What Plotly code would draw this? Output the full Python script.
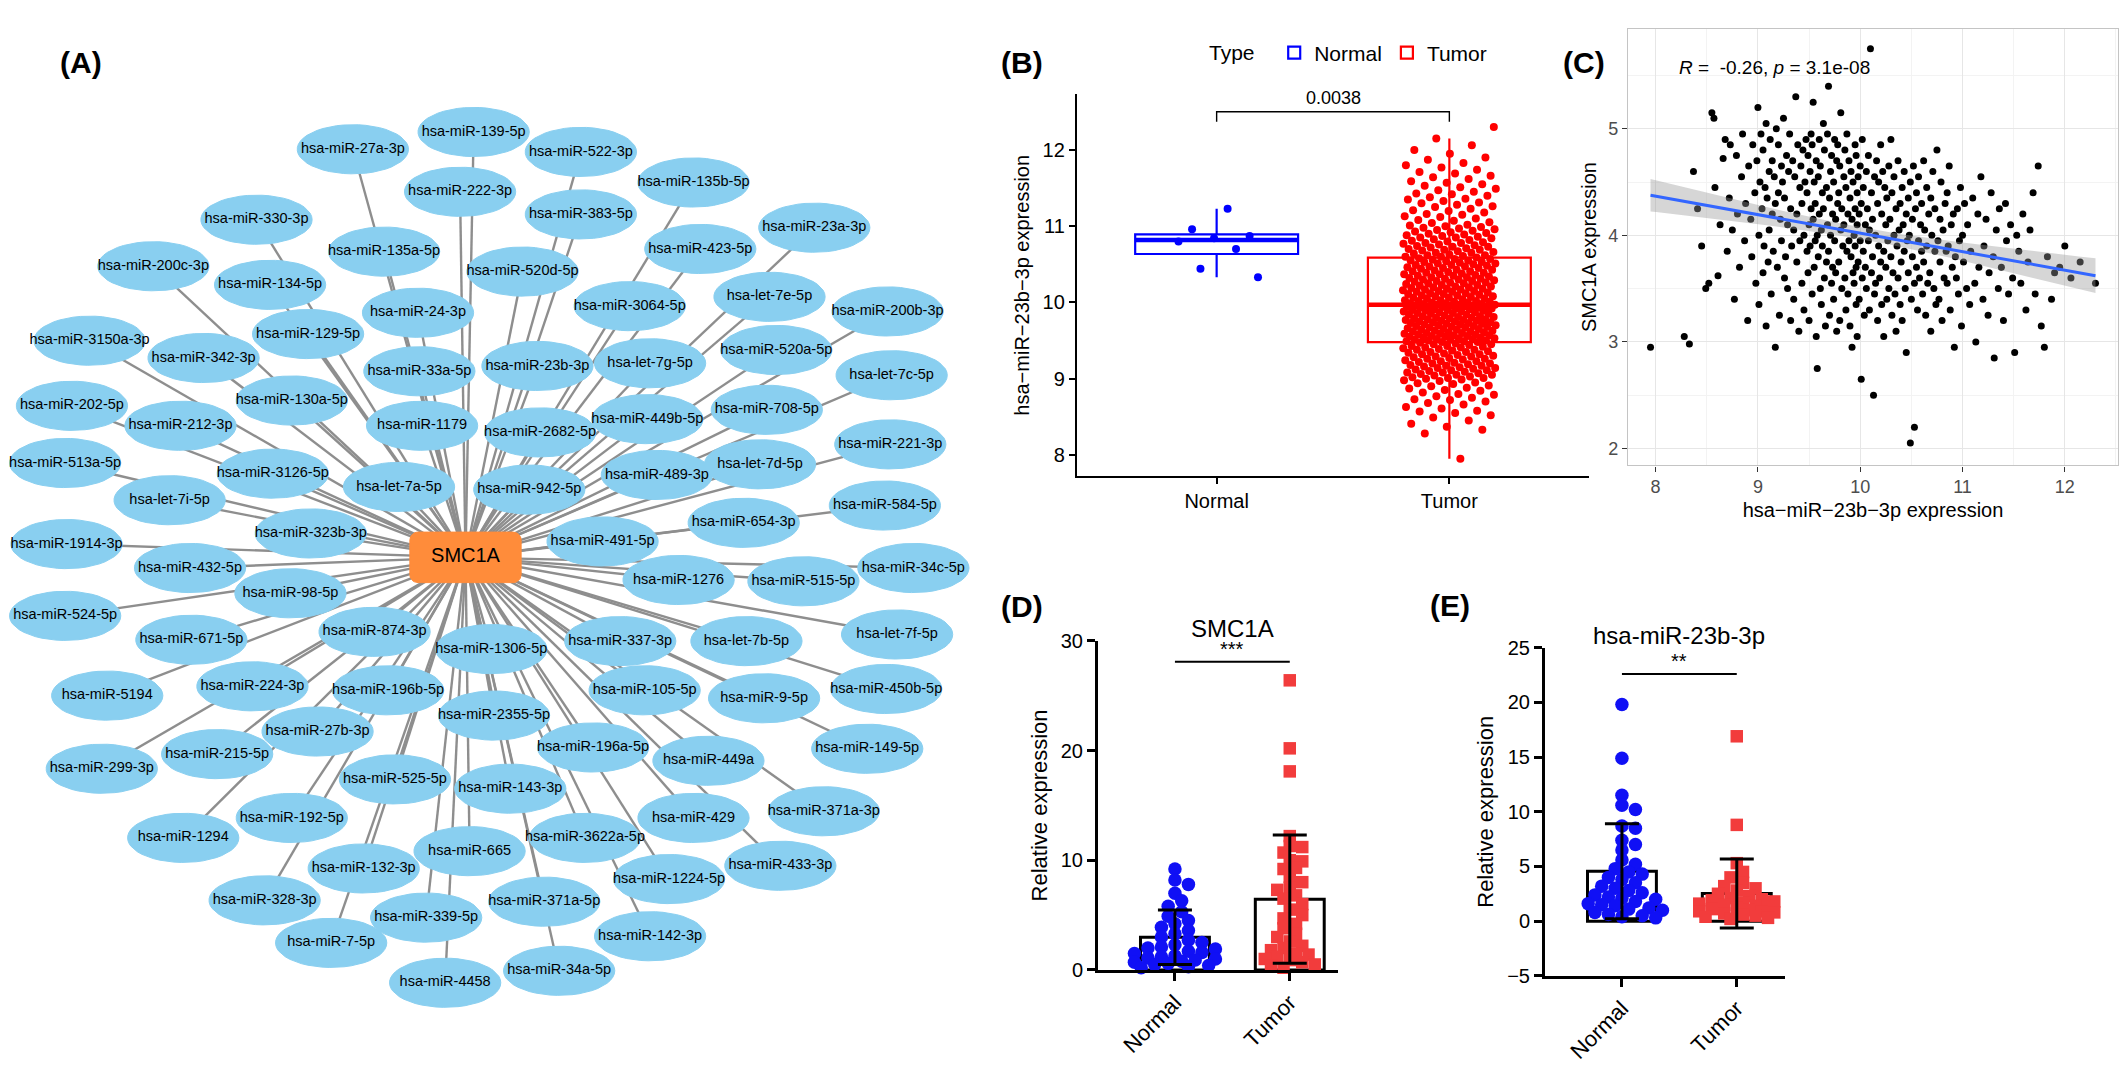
import numpy as np
import plotly.graph_objects as go

W, H = 2128, 1074
S = W / 1568.0  # network layout unit -> pixels
FONT = "Arial, 'Liberation Sans', Helvetica, sans-serif"

groups = ["Normal", "Tumor"]

# ---------------- Panel A : SMC1A - miRNA network (layout) ----------
hub_name = "SMC1A"
hub_x, hub_y = 343, 411
mirna_names = [
    "hsa-miR-139-5p", "hsa-miR-27a-3p", "hsa-miR-522-3p", "hsa-miR-222-3p", "hsa-miR-135b-5p",
    "hsa-miR-330-3p", "hsa-miR-383-5p", "hsa-miR-23a-3p", "hsa-miR-200c-3p", "hsa-miR-135a-5p",
    "hsa-miR-423-5p", "hsa-miR-134-5p", "hsa-miR-520d-5p", "hsa-let-7e-5p", "hsa-miR-200b-3p",
    "hsa-miR-3064-5p", "hsa-miR-24-3p", "hsa-miR-129-5p", "hsa-miR-3150a-3p", "hsa-miR-342-3p",
    "hsa-let-7g-5p", "hsa-miR-520a-5p", "hsa-let-7c-5p", "hsa-miR-33a-5p", "hsa-miR-23b-3p",
    "hsa-miR-130a-5p", "hsa-miR-202-5p", "hsa-miR-212-3p", "hsa-miR-1179", "hsa-miR-2682-5p",
    "hsa-miR-449b-5p", "hsa-miR-708-5p", "hsa-miR-221-3p", "hsa-miR-513a-5p", "hsa-miR-3126-5p",
    "hsa-let-7a-5p", "hsa-miR-942-5p", "hsa-miR-489-3p", "hsa-let-7d-5p", "hsa-let-7i-5p",
    "hsa-miR-323b-3p", "hsa-miR-584-5p", "hsa-miR-654-3p", "hsa-miR-1914-3p", "hsa-miR-491-5p",
    "hsa-miR-432-5p", "hsa-miR-34c-5p", "hsa-miR-1276", "hsa-miR-515-5p", "hsa-miR-98-5p",
    "hsa-miR-524-5p", "hsa-let-7f-5p", "hsa-miR-874-3p", "hsa-miR-671-5p", "hsa-let-7b-5p",
    "hsa-miR-1306-5p", "hsa-miR-337-3p", "hsa-miR-450b-5p", "hsa-miR-224-3p", "hsa-miR-196b-5p",
    "hsa-miR-5194", "hsa-miR-105-5p", "hsa-miR-9-5p", "hsa-miR-2355-5p", "hsa-miR-27b-3p",
    "hsa-miR-196a-5p", "hsa-miR-149-5p", "hsa-miR-215-5p", "hsa-miR-299-3p", "hsa-miR-449a",
    "hsa-miR-525-5p", "hsa-miR-143-3p", "hsa-miR-371a-3p", "hsa-miR-192-5p", "hsa-miR-429",
    "hsa-miR-1294", "hsa-miR-3622a-5p", "hsa-miR-665", "hsa-miR-132-3p", "hsa-miR-433-3p",
    "hsa-miR-1224-5p", "hsa-miR-328-3p", "hsa-miR-339-5p", "hsa-miR-371a-5p", "hsa-miR-142-3p",
    "hsa-miR-7-5p", "hsa-miR-4458", "hsa-miR-34a-5p",
]
mirna_x = [
    349, 260, 428, 339, 511, 189, 428, 600, 113, 283,
    516, 199, 385, 567, 654, 464, 308, 227, 66, 150,
    479, 572, 657, 309, 396, 215, 53, 133, 311, 398,
    477, 565, 656, 48, 201, 294, 390, 484, 560, 125,
    229, 652, 548, 49, 444, 140, 673, 500, 592, 214,
    48, 661, 276, 141, 550, 362, 457, 653, 186, 286,
    79, 475, 563, 364, 234, 437, 639, 160, 75, 522,
    291, 376, 607, 215, 511, 135, 431, 346, 268, 575,
    493, 195, 314, 401, 479, 244, 328, 412,
]
mirna_y = [
    91, 104, 106, 136, 129, 157, 153, 163, 192, 181,
    179, 206, 196, 215, 226, 222, 227, 243, 248, 261,
    265, 255, 274, 271, 267, 293, 297, 312, 312, 317,
    307, 300, 326, 340, 348, 358, 360, 349, 341, 368,
    393, 372, 385, 401, 399, 419, 419, 428, 429, 438,
    455, 469, 467, 473, 474, 480, 474, 510, 508, 511,
    515, 511, 517, 530, 542, 554, 555, 559, 570, 564,
    578, 585, 602, 607, 607, 622, 622, 632, 645, 643,
    653, 669, 682, 670, 696, 701, 731, 722,
]

# ---------------- Panel B / C : TCGA expression ----------------
normal_mir = [11.23, 10.96, 10.87, 10.84, 10.80, 10.70, 10.44, 10.33]
tumor_mir = [
    7.95, 8.28, 8.33, 8.37, 8.41, 8.45, 8.49, 8.52, 8.55, 8.57,
    8.58, 8.61, 8.63, 8.66, 8.68, 8.70, 8.72, 8.73, 8.75, 8.77,
    8.79, 8.80, 8.82, 8.84, 8.85, 8.87, 8.88, 8.90, 8.91, 8.93,
    8.94, 8.95, 8.97, 8.98, 8.99, 9.00, 9.01, 9.01, 9.02, 9.03,
    9.04, 9.05, 9.05, 9.06, 9.07, 9.08, 9.08, 9.09, 9.10, 9.11,
    9.11, 9.12, 9.13, 9.14, 9.14, 9.15, 9.16, 9.17, 9.17, 9.18,
    9.19, 9.20, 9.20, 9.21, 9.22, 9.23, 9.23, 9.24, 9.25, 9.26,
    9.26, 9.27, 9.28, 9.29, 9.29, 9.30, 9.31, 9.32, 9.32, 9.33,
    9.34, 9.35, 9.35, 9.36, 9.37, 9.38, 9.38, 9.39, 9.40, 9.41,
    9.41, 9.42, 9.43, 9.43, 9.44, 9.45, 9.45, 9.46, 9.47, 9.48,
    9.48, 9.49, 9.49, 9.50, 9.50, 9.51, 9.51, 9.52, 9.52, 9.53,
    9.53, 9.54, 9.54, 9.55, 9.55, 9.56, 9.56, 9.57, 9.57, 9.58,
    9.58, 9.59, 9.59, 9.60, 9.60, 9.61, 9.61, 9.62, 9.62, 9.63,
    9.63, 9.64, 9.64, 9.65, 9.65, 9.66, 9.67, 9.67, 9.68, 9.68,
    9.69, 9.69, 9.70, 9.70, 9.71, 9.71, 9.72, 9.72, 9.73, 9.73,
    9.74, 9.74, 9.75, 9.75, 9.76, 9.76, 9.77, 9.77, 9.78, 9.78,
    9.79, 9.79, 9.80, 9.80, 9.81, 9.81, 9.82, 9.82, 9.83, 9.84,
    9.84, 9.85, 9.85, 9.86, 9.86, 9.87, 9.87, 9.88, 9.88, 9.89,
    9.89, 9.90, 9.90, 9.91, 9.91, 9.92, 9.92, 9.93, 9.93, 9.94,
    9.94, 9.95, 9.95, 9.95, 9.96, 9.96, 9.96, 9.97, 9.97, 9.97,
    9.98, 9.98, 9.99, 9.99, 10.00, 10.00, 10.01, 10.01, 10.02, 10.02,
    10.03, 10.03, 10.04, 10.05, 10.05, 10.06, 10.06, 10.07, 10.08, 10.08,
    10.09, 10.09, 10.10, 10.11, 10.11, 10.12, 10.12, 10.13, 10.14, 10.14,
    10.15, 10.15, 10.16, 10.17, 10.17, 10.18, 10.18, 10.19, 10.20, 10.20,
    10.21, 10.21, 10.22, 10.23, 10.23, 10.24, 10.25, 10.25, 10.26, 10.26,
    10.27, 10.28, 10.28, 10.29, 10.30, 10.30, 10.31, 10.31, 10.32, 10.33,
    10.33, 10.34, 10.35, 10.35, 10.36, 10.37, 10.37, 10.38, 10.39, 10.39,
    10.40, 10.41, 10.41, 10.42, 10.43, 10.43, 10.44, 10.45, 10.45, 10.46,
    10.47, 10.47, 10.48, 10.49, 10.49, 10.50, 10.51, 10.51, 10.52, 10.53,
    10.53, 10.54, 10.55, 10.55, 10.56, 10.57, 10.57, 10.58, 10.59, 10.60,
    10.60, 10.61, 10.62, 10.62, 10.63, 10.64, 10.65, 10.65, 10.66, 10.67,
    10.68, 10.69, 10.69, 10.70, 10.71, 10.72, 10.73, 10.73, 10.74, 10.75,
    10.76, 10.77, 10.78, 10.78, 10.79, 10.80, 10.81, 10.82, 10.83, 10.84,
    10.85, 10.85, 10.86, 10.87, 10.88, 10.89, 10.90, 10.91, 10.92, 10.93,
    10.94, 10.95, 10.96, 10.97, 10.98, 10.99, 11.00, 11.01, 11.02, 11.04,
    11.05, 11.07, 11.08, 11.10, 11.12, 11.13, 11.15, 11.16, 11.18, 11.20,
    11.21, 11.23, 11.25, 11.26, 11.28, 11.30, 11.31, 11.33, 11.35, 11.36,
    11.38, 11.40, 11.42, 11.43, 11.45, 11.47, 11.49, 11.51, 11.53, 11.55,
    11.57, 11.59, 11.62, 11.64, 11.66, 11.69, 11.71, 11.74, 11.77, 11.80,
    11.83, 11.87, 11.90, 11.95, 12.00, 12.06, 12.15, 12.30,
]
tumor_smc1a = [
    2.95, 3.05, 2.98, 4.60, 4.25, 3.90, 3.50, 3.55, 5.15, 5.10,
    4.45, 3.62, 4.10, 4.72, 4.90, 3.85, 4.35, 4.85, 4.05, 3.40,
    4.75, 4.20, 3.70, 4.55, 4.95, 3.95, 4.30, 3.20, 4.65, 4.15,
    3.80, 4.85, 4.40, 3.55, 4.70, 5.20, 4.00, 3.35, 4.50, 4.95,
    4.25, 3.65, 4.80, 3.90, 4.45, 3.15, 5.05, 4.35, 3.75, 4.60,
    4.05, 4.90, 3.45, 4.20, 4.70, 3.85, 4.55, 2.95, 4.30, 5.00,
    3.70, 4.40, 4.85, 3.25, 4.15, 4.65, 3.95, 4.50, 5.10, 3.60,
    4.35, 3.80, 4.75, 4.10, 3.50, 4.60, 4.95, 3.20, 4.25, 3.90,
    4.70, 4.05, 3.40, 4.55, 5.30, 3.75, 4.20, 4.85, 3.10, 4.45,
    3.95, 4.65, 4.30, 3.55, 4.80, 4.00, 3.30, 4.50, 4.90, 3.85,
    4.40, 3.65, 4.75, 4.10, 3.20, 4.60, 3.90, 4.95, 4.25, 3.45,
    4.85, 4.15, 5.25, 3.70, 4.50, 3.95, 4.30, 3.05, 4.70, 4.00,
    2.75, 4.55, 3.80, 4.90, 4.20, 3.50, 4.65, 4.05, 3.35, 4.40,
    3.90, 5.05, 4.25, 3.60, 4.80, 3.15, 4.45, 3.75, 4.95, 4.10,
    5.40, 3.85, 4.35, 3.25, 4.60, 4.00, 3.55, 4.75, 3.70, 4.20,
    4.50, 3.40, 4.90, 3.95, 4.15, 3.65, 4.70, 3.10, 4.30, 4.85,
    3.75, 4.40, 3.20, 4.65, 4.05, 5.15, 3.50, 4.25, 3.90, 4.55,
    4.10, 3.60, 4.80, 3.30, 4.45, 3.85, 4.95, 3.45, 4.20, 3.95,
    4.70, 3.15, 4.35, 3.80, 4.60, 2.95, 4.15, 3.65, 4.50, 4.00,
    3.55, 4.85, 3.90, 4.25, 3.35, 4.75, 3.70, 4.40, 3.05, 4.10,
    4.55, 3.75, 4.20, 3.40, 4.65, 3.95, 2.65, 4.30, 3.60, 4.90,
    3.85, 4.45, 3.25, 4.10, 3.70, 4.60, 3.50, 4.25, 3.95, 4.75,
    3.30, 4.05, 5.75, 3.65, 4.40, 3.80, 4.15, 2.50, 4.55, 3.45,
    4.00, 3.55, 4.70, 3.20, 4.30, 3.90, 4.50, 3.60, 4.85, 3.75,
    4.20, 3.35, 4.60, 3.85, 3.05, 4.45, 3.70, 4.10, 3.40, 4.35,
    3.95, 4.65, 3.50, 4.15, 3.80, 4.90, 3.25, 4.40, 3.65, 4.00,
    4.55, 3.45, 4.25, 3.10, 3.90, 4.70, 3.60, 4.05, 3.35, 4.30,
    3.75, 4.45, 3.20, 4.10, 3.85, 4.60, 3.50, 4.20, 2.90, 3.95,
    4.35, 3.65, 4.00, 2.05, 4.50, 3.40, 4.15, 3.80, 4.65, 3.55,
    2.20, 4.25, 3.70, 4.40, 3.30, 3.95, 4.55, 3.60, 4.10, 3.85,
    4.30, 3.45, 4.70, 3.75, 4.05, 3.25, 4.45, 3.90, 3.55, 4.20,
    3.65, 4.35, 3.10, 4.00, 4.60, 3.50, 3.85, 4.25, 3.35, 4.80,
    3.95, 3.40, 4.15, 3.75, 4.50, 3.20, 4.05, 3.60, 4.30, 3.85,
    4.40, 3.55, 3.90, 4.65, 3.30, 4.10, 3.70, 4.20, 2.95, 3.80,
    3.60, 4.25, 3.45, 3.95, 4.45, 3.15, 4.00, 3.75, 4.30, 3.50,
    4.10, 3.35, 3.85, 4.35, 3.55, 3.00, 4.20, 3.70, 4.55, 3.40,
    3.90, 4.15, 3.25, 3.65, 4.40, 3.80, 2.85, 4.05, 3.50, 4.25,
    3.70, 3.20, 4.30, 3.95, 3.45, 4.10, 3.60, 2.90, 4.00, 3.85,
    3.55, 4.20, 3.30, 3.75, 4.05, 4.40, 3.45, 4.65, 3.15, 2.95,
    3.80, 3.40, 3.65, 3.70, 3.90, 3.60, 3.75, 3.55,
]
p_label_b = "0.0038"
cor_label_c = "<i>R</i> =  -0.26, <i>p</i> = 3.1e-08"

# ---------------- Panel D / E : qPCR relative expression ----------------
d_normal = [9.2, 8.2, 7.8, 7.0, 6.3, 5.8, 5.3, 4.9, 4.5, 4.2, 3.9, 3.6, 3.3, 3.0, 2.7, 2.5, 2.3,
            2.1, 2.0, 1.9, 1.7, 1.6, 1.5, 1.3, 1.2, 1.1, 1.0, 0.9, 0.8, 0.7, 0.6, 0.5, 0.4, 0.3, 0.2]
d_tumor = [26.4, 20.2, 18.1, 12.2, 11.3, 11.2, 10.7, 10.0, 9.9, 9.3, 9.2, 8.5, 8.0, 7.5, 7.3, 6.8,
           6.5, 6.0, 5.5, 5.0, 4.7, 4.2, 3.8, 3.3, 3.0, 2.6, 2.2, 2.0, 1.8, 1.5, 1.4, 1.2, 1.0,
           0.9, 0.7, 0.5, 0.4, 0.2]
e_normal = [19.8, 14.9, 11.5, 10.6, 10.2, 8.7, 8.5, 7.4, 7.0, 6.5, 5.6, 5.2, 4.8, 4.5, 4.3, 4.0,
            3.8, 3.5, 3.2, 3.0, 2.8, 2.6, 2.4, 2.2, 2.1, 2.0, 1.8, 1.6, 1.5, 1.4, 1.2, 1.1, 1.0,
            0.8, 0.6, 0.5, 0.4, 0.3]
e_tumor = [16.9, 8.8, 5.3, 4.5, 4.0, 3.5, 3.2, 3.0, 2.8, 2.5, 2.3, 2.1, 2.0, 1.9, 1.8, 1.7, 1.6,
           1.5, 1.4, 1.3, 1.2, 1.1, 1.0, 0.9, 0.9, 0.8, 0.7, 0.6, 0.5, 0.4, 0.3, 0.2]
d_title, e_title = "SMC1A", "hsa-miR-23b-3p"
d_sig, e_sig = "***", "**"

# ======================================================================
fig = go.Figure()
BLUE, RED = "#0000FF", "#FF0000"
SKY, ORANGE = "#89CFF0", "#FF8C3A"


def fx(p):
    return p / W


def fy(p):
    return 1 - p / H


# ---- network edges
ex, ey = [], []
for x, y in zip(mirna_x, mirna_y):
    ex += [hub_x, x, None]
    ey += [hub_y, y, None]
fig.add_trace(go.Scatter(x=ex, y=ey, mode="lines", line=dict(color="#8E8E8E", width=2.4),
                         hoverinfo="skip", showlegend=False, xaxis="x", yaxis="y"))
# ---- node ellipses
NA, NB = 41.0, 18.5
tt = np.linspace(0, 2 * np.pi, 48)
elx, ely = [], []
for x, y in zip(mirna_x, mirna_y):
    elx += list(x + NA * np.cos(tt)) + [None]
    ely += list(y + NB * np.sin(tt)) + [None]
fig.add_trace(go.Scatter(x=elx, y=ely, mode="lines", fill="toself", fillcolor=SKY,
                         line=dict(color=SKY, width=1), hoverinfo="skip", showlegend=False,
                         xaxis="x", yaxis="y"))
# ---- hub rounded rectangle
hw, hh, rr = 41.0, 19.0, 6.0
rx, ry = [], []
for ox, oy, a0, a1 in [(hub_x + hw - rr, hub_y - hh + rr, -90, 0), (hub_x + hw - rr, hub_y + hh - rr, 0, 90),
                       (hub_x - hw + rr, hub_y + hh - rr, 90, 180), (hub_x - hw + rr, hub_y - hh + rr, 180, 270)]:
    ang = np.radians(np.linspace(a0, a1, 8))
    rx += list(ox + rr * np.cos(ang))
    ry += list(oy + rr * np.sin(ang))
rx.append(rx[0]); ry.append(ry[0])
fig.add_trace(go.Scatter(x=rx, y=ry, mode="lines", fill="toself", fillcolor=ORANGE,
                         line=dict(color=ORANGE, width=1), hoverinfo="skip", showlegend=False,
                         xaxis="x", yaxis="y"))
fig.add_trace(go.Scatter(x=mirna_x, y=mirna_y, mode="text", text=mirna_names,
                         textfont=dict(size=14.5, color="black", family=FONT),
                         hoverinfo="skip", showlegend=False, xaxis="x", yaxis="y"))
fig.add_trace(go.Scatter(x=[hub_x], y=[hub_y], mode="text", text=[hub_name],
                         textfont=dict(size=20, color="black", family=FONT),
                         hoverinfo="skip", showlegend=False, xaxis="x", yaxis="y"))

# ---- Panel B boxplots


def box_stats(v):
    v = np.asarray(v, float)
    q1, med, q3 = np.percentile(v, [25, 50, 75])
    iqr = q3 - q1
    lo = v[v >= q1 - 1.5 * iqr].min()
    hi = v[v <= q3 + 1.5 * iqr].max()
    return q1, med, q3, lo, hi


GOLD = 0.6180339887
for gi, (g, vals, col) in enumerate(zip(groups, [normal_mir, tumor_mir], [BLUE, RED])):
    q1, med, q3, lo, hi = box_stats(vals)
    fig.add_trace(go.Box(x=[gi], q1=[q1], median=[med], q3=[q3], lowerfence=[lo], upperfence=[hi],
                         name=g, width=0.7, orientation="v", line=dict(color=col, width=2.2),
                         fillcolor="rgba(255,255,255,0)", whiskerwidth=0, boxpoints=False,
                         xaxis="x2", yaxis="y2", showlegend=True, hoverinfo="skip"))
    fig.add_trace(go.Scatter(x=[gi - 0.35, gi + 0.35], y=[med, med], mode="lines",
                             line=dict(color=col, width=4.5), showlegend=False, hoverinfo="skip",
                             xaxis="x2", yaxis="y2"))
    idx = np.arange(len(vals))
    jit = 0.4 * (((idx + 1) * GOLD) % 1.0 - 0.5)
    fig.add_trace(go.Scatter(x=gi + jit, y=vals, mode="markers",
                             marker=dict(color=col, size=8, line=dict(width=0)),
                             showlegend=False, hoverinfo="skip", xaxis="x2", yaxis="y2"))

top_b = max(max(tumor_mir), max(normal_mir)) + 0.2
fig.add_trace(go.Scatter(x=[0, 0, 1, 1], y=[top_b - 0.13, top_b, top_b, top_b - 0.13], mode="lines",
                         line=dict(color="black", width=1.4), showlegend=False, hoverinfo="skip",
                         xaxis="x2", yaxis="y2"))

# ---- Panel C scatter + lm
cx = np.asarray(tumor_mir[:len(tumor_smc1a)], float)
cy = np.asarray(tumor_smc1a[:len(cx)], float)
b1, b0 = np.polyfit(cx, cy, 1)
xs = np.linspace(cx.min(), cx.max(), 80)
yh = b0 + b1 * xs
n = len(cx)
s = np.sqrt(np.sum((cy - (b0 + b1 * cx)) ** 2) / (n - 2))
se = s * np.sqrt(1.0 / n + (xs - cx.mean()) ** 2 / np.sum((cx - cx.mean()) ** 2))
tq = 1.966
fig.add_trace(go.Scatter(x=cx, y=cy, mode="markers", marker=dict(color="black", size=7),
                         showlegend=False, hoverinfo="skip", xaxis="x3", yaxis="y3"))
fig.add_trace(go.Scatter(x=np.concatenate([xs, xs[::-1]]),
                         y=np.concatenate([yh + tq * se, (yh - tq * se)[::-1]]),
                         mode="lines", fill="toself", fillcolor="rgba(153,153,153,0.4)",
                         line=dict(width=0), showlegend=False, hoverinfo="skip",
                         xaxis="x3", yaxis="y3"))
fig.add_trace(go.Scatter(x=xs, y=yh, mode="lines", line=dict(color="#3366FF", width=3),
                         showlegend=False, hoverinfo="skip", xaxis="x3", yaxis="y3"))

# ---- Panels D / E bar + scatter


def swarm(vals, xppu, yppu, diam, max_units=0.36):
    v = np.asarray(vals, float)
    order = np.argsort(-v)
    px_l, py_l = [], []
    off = np.zeros(len(v))
    step = diam * 0.5
    lim = max_units * xppu
    for i in order:
        yp = v[i] * yppu
        best, best_d = 0.0, -1.0
        k = 0
        while True:
            m = (k + 1) // 2
            cand = 0.0 if k == 0 else (m * step if k % 2 else -m * step)
            if abs(cand) > lim:
                cand = best
                break
            dmin = min([np.hypot(cand - a, yp - b) for a, b in zip(px_l, py_l)] or [1e9])
            if dmin > best_d:
                best, best_d = cand, dmin
            if dmin >= diam * 0.72:
                break
            k += 1
        px_l.append(cand); py_l.append(yp)
        off[i] = cand / xppu
    return off


XR = [-0.67, 1.42]
panels = [
    ("x4", "y4", d_normal, d_tumor, (1098, 1338), (643, 979), (0, 30), d_sig, 1.7),
    ("x5", "y5", e_normal, e_tumor, (1545, 1785), (650, 985), (-5, 25), e_sig, 2.8),
]
annotations = []
for xa, ya, nv, tv, (xl, xr), (yt, yb), yr, sig, gap in panels:
    xppu = (xr - xl) / (XR[1] - XR[0])
    yppu = (yb - yt) / (yr[1] - yr[0])
    means = [float(np.mean(nv)), float(np.mean(tv))]
    sds = [float(np.std(nv, ddof=1)), float(np.std(tv, ddof=1))]
    fig.add_trace(go.Bar(x=[0, 1], y=means, width=0.6,
                         marker=dict(color="white", line=dict(color="black", width=3)),
                         showlegend=False, hoverinfo="skip", xaxis=xa, yaxis=ya))
    for gi, vals, col, sym, sz in [(0, nv, "#1010F5", "circle", 13.5), (1, tv, "#F23C3C", "square", 12.5)]:
        off = swarm(vals, xppu, yppu, sz)
        fig.add_trace(go.Scatter(x=gi + off, y=vals, mode="markers", cliponaxis=False,
                                 marker=dict(color=col, symbol=sym, size=sz, line=dict(width=0)),
                                 showlegend=False, hoverinfo="skip", xaxis=xa, yaxis=ya))
    fig.add_trace(go.Scatter(x=[0, 1], y=means, mode="markers", marker=dict(size=1, color="rgba(0,0,0,0)"),
                             error_y=dict(type="data", array=sds, visible=True, color="black",
                                          thickness=3, width=17),
                             showlegend=False, hoverinfo="skip", xaxis=xa, yaxis=ya))
    ys = max(max(nv), max(tv)) + gap
    fig.add_trace(go.Scatter(x=[0, 1], y=[ys, ys], mode="lines", line=dict(color="black", width=2),
                             showlegend=False, hoverinfo="skip", xaxis=xa, yaxis=ya))
    annotations.append(dict(x=0.5, y=ys, xref=xa, yref=ya, text=sig, showarrow=False,
                            yanchor="bottom", font=dict(size=20, color="black")))

# ---- annotations
panel_labels = [("(A)", 58, 34), ("(B)", 1022, 34), ("(C)", 1607, 34), ("(D)", 1022, 608), ("(E)", 1472, 607)]
for txt, x, y in panel_labels:
    annotations.append(dict(x=fx(x), y=fy(y), xref="paper", yref="paper", text="<b>%s</b>" % txt,
                            showarrow=False, font=dict(size=30, color="black")))
annotations.append(dict(x=0.5, y=top_b + 0.03, xref="x2", yref="y2", text=p_label_b, showarrow=False,
                        yanchor="bottom", font=dict(size=18, color="black")))
annotations.append(dict(x=0.5, y=1 + (643 - 615) / 336.0, xref="x4", yref="y4 domain", text=d_title,
                        showarrow=False, font=dict(size=24, color="black")))
annotations.append(dict(x=0.5, y=1 + (650 - 622) / 335.0, xref="x5", yref="y5 domain", text=e_title,
                        showarrow=False, font=dict(size=24, color="black")))
annotations.append(dict(x=0.10, y=0.94, xref="x3 domain", yref="y3 domain", text=cor_label_c,
                        showarrow=False, xanchor="left", font=dict(size=19, color="black")))

axis_b = dict(showline=True, linecolor="black", linewidth=2.4, ticks="outside", ticklen=6, tickwidth=2,
              tickcolor="black", showgrid=False, zeroline=False, tickfont=dict(size=20, color="black"))
axis_c = dict(showline=True, mirror=True, linecolor="#C4C4C4", linewidth=1.2, ticks="outside", ticklen=5,
              tickwidth=1.2, tickcolor="#333333", showgrid=True, gridcolor="#E6E6E6", gridwidth=1.3,
              zeroline=False, tickfont=dict(size=18, color="#4D4D4D"), tickmode="linear", dtick=1,
              minor=dict(showgrid=True, gridcolor="#F3F3F3", gridwidth=1, dtick=0.5))
axis_d = dict(showline=True, linecolor="black", linewidth=3, ticks="outside", ticklen=8, tickwidth=3,
              tickcolor="black", showgrid=False, zeroline=False, tickfont=dict(size=20, color="black"))

fig.update_layout(
    width=W, height=H, margin=dict(l=0, r=0, t=0, b=0),
    paper_bgcolor="white", plot_bgcolor="white",
    font=dict(family=FONT, color="black"),
    showlegend=True,
    legend=dict(orientation="h", x=fx(1207), y=fy(22), xanchor="left", yanchor="top",
                title=dict(text="Type  ", side="left", font=dict(size=21)),
                font=dict(size=21), bgcolor="rgba(0,0,0,0)", itemwidth=30),
    xaxis=dict(domain=[0, 760 * S / W], range=[0, 760], visible=False),
    yaxis=dict(domain=[0, 1], range=[H / S, 0], visible=False),
    xaxis2=dict(domain=[fx(1077), fx(1589)], anchor="y2", range=[-0.6, 1.6], tickvals=[0, 1],
                ticktext=groups, **axis_b),
    yaxis2=dict(domain=[fy(475), fy(85)], anchor="x2", range=[7.72, 12.73], tickvals=[8, 9, 10, 11, 12],
                title=dict(text="hsa\u2212miR\u221223b\u22123p expression", font=dict(size=20), standoff=8),
                **axis_b),
    xaxis3=dict(domain=[fx(1628), fx(2118)], anchor="y3", range=[7.73, 12.52], tick0=8,
                title=dict(text="hsa\u2212miR\u221223b\u22123p expression", font=dict(size=20), standoff=6),
                **axis_c),
    yaxis3=dict(domain=[fy(464), fy(18)], anchor="x3", range=[1.84, 5.94], tick0=2,
                title=dict(text="SMC1A expression", font=dict(size=20), standoff=6), **axis_c),
    xaxis4=dict(domain=[fx(1098), fx(1338)], anchor="y4", range=XR, tickvals=[0, 1], ticktext=groups,
                tickangle=-45, **{**axis_d, "tickfont": dict(size=22, color="black")}),
    yaxis4=dict(domain=[fy(979), fy(643)], anchor="x4", range=[0, 30], tickvals=[0, 10, 20, 30],
                title=dict(text="Relative expression", font=dict(size=22), standoff=8), **axis_d),
    xaxis5=dict(domain=[fx(1545), fx(1785)], anchor="y5", range=XR, tickvals=[0, 1], ticktext=groups,
                tickangle=-45, **{**axis_d, "tickfont": dict(size=22, color="black")}),
    yaxis5=dict(domain=[fy(985), fy(650)], anchor="x5", range=[-5, 25], tickvals=[-5, 0, 5, 10, 15, 20, 25],
                title=dict(text="Relative expression", font=dict(size=22), standoff=8), **axis_d),
    annotations=annotations,
    bargap=0.3,
)

fig.write_html("out.html", config={"displayModeBar": False},
               post_script="document.body.style.margin='0px';")
